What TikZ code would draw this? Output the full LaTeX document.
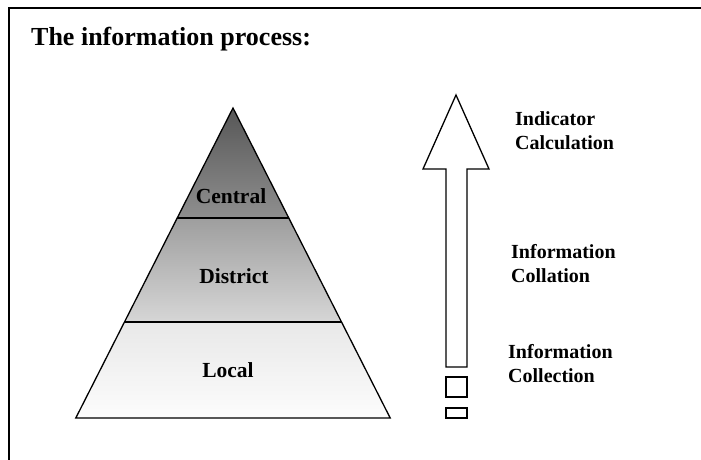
\documentclass[tikz,border=0pt]{standalone}
\usepackage{fontspec}
\setmainfont{Liberation Serif}
\begin{document}
\begin{tikzpicture}[x=1pt,y=-1pt,
  lbl/.style={inner sep=0pt,anchor=base west,font=\fontsize{20}{24}\selectfont\bfseries,align=left},
  plbl/.style={inner sep=0pt,anchor=base,font=\fontsize{21.5}{25}\selectfont\bfseries},
  outline/.style={draw=black,line width=1.3pt,line join=miter}]
\useasboundingbox (0,0) rectangle (701,460);
\fill[white] (0,0) rectangle (701,460);
% frame
\draw[line width=1.6pt] (9,460) -- (9,8) -- (702,8);
% title
\node[inner sep=0pt,anchor=base west,font=\fontsize{26}{30}\selectfont\bfseries] (title) at (31,46) {The information process:};
% pyramid
\coordinate (apex) at (233,108);
\coordinate (c1) at (177.2,218); \coordinate (c2) at (288.8,218);
\coordinate (d1) at (124.5,322); \coordinate (d2) at (341.5,322);
\coordinate (b1) at (75.8,418); \coordinate (b2) at (390.2,418);
\shade[top color=black!66, bottom color=black!44] (apex) -- (c2) -- (c1) -- cycle;
\shade[top color=black!38, bottom color=black!16] (c1) -- (c2) -- (d2) -- (d1) -- cycle;
\shade[top color=black!9, bottom color=black!1] (d1) -- (d2) -- (b2) -- (b1) -- cycle;
\draw[outline] (apex) -- (b2) -- (b1) -- cycle;
\draw[line width=1.1pt] (c1) -- (c2);
\draw[line width=1.1pt] (d1) -- (d2);
\node[plbl] (central) at (231,203) {Central};
\node[plbl] (district) at (234,283) {District};
\node[plbl] (local) at (228,377) {Local};
% arrow
\draw[outline,fill=white] (456,95) -- (489,169) -- (467,169) -- (467,367) -- (446,367) -- (446,169) -- (423,169) -- cycle;
\draw[outline] (446,377) rectangle (467,397);
\draw[outline] (446,408) rectangle (467,418);
% labels
\node[lbl] (ind) at (515,149) {Indicator\\Calculation};
\node[lbl] (coll) at (511,282) {Information\\Collation};
\node[lbl] (collect) at (508,382) {Information\\Collection};
\end{tikzpicture}
\end{document}
